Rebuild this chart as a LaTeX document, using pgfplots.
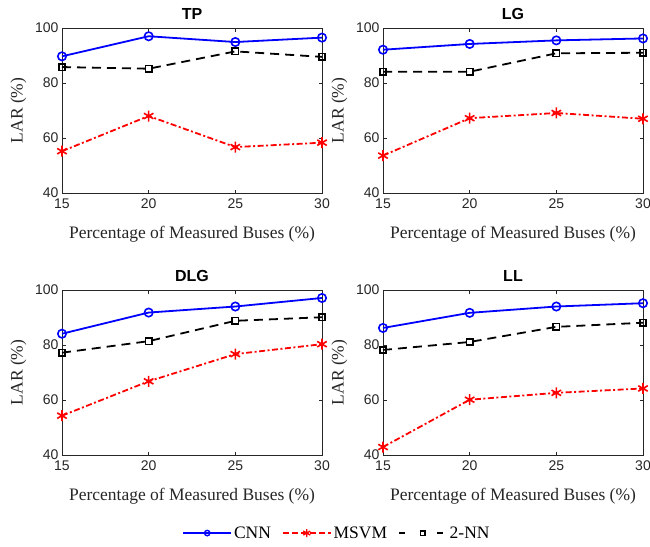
\documentclass[border=0pt]{standalone}
\usepackage{pgfplots}
\pgfplotsset{compat=1.18}
\usepackage{fontspec}
\setmainfont{Liberation Serif}
\setsansfont{Liberation Sans}
\definecolor{axgray}{gray}{0.15}
\pgfplotsset{
 myax/.style={
  scale only axis, width=260pt, height=165pt,
  xmin=15, xmax=30, ymin=40, ymax=100,
  xtick={15,20,25,30}, ytick={40,60,80,100},
  tick align=inside, major tick length=3.5pt,
  axis line style={axgray, line width=0.6pt},
  tick style={axgray, line width=0.6pt},
  /pgf/number format/assume math mode=true,
  ticklabel style={font=\sffamily\fontsize{14}{16}\selectfont, text=axgray},
  xticklabel style={yshift=-2pt},
  label style={font=\fontsize{17.5}{20}\selectfont, text=axgray},
  xlabel style={yshift=-11pt},
  ylabel style={yshift=2pt},
  title style={font=\sffamily\bfseries\fontsize{16}{18}\selectfont, yshift=-1pt},
  xlabel={Percentage of Measured Buses (\%)},
  ylabel={LAR (\%)},
  clip=false,
 },
 cnn/.style={blue, line width=1.8pt, mark=o, mark size=4.2pt, mark options={solid, line width=1.6pt}},
 msvm/.style={red, line width=1.8pt, dash pattern=on 6pt off 2.5pt on 2pt off 2.5pt, mark=asterisk, mark size=5.5pt, mark options={solid, line width=1.6pt}},
 nn/.style={black, line width=1.8pt, dash pattern=on 9pt off 6pt, mark=square, mark size=3.2pt, mark options={solid, line width=1.5pt}},
}
\begin{document}
\begin{tikzpicture}
\useasboundingbox (0,0) rectangle (650pt,-546pt);
% TP
\begin{axis}[myax, at={(62pt,-193pt)}, anchor=south west, title={TP}]
\addplot[cnn] coordinates {(15,89.7) (20,97.0) (25,94.9) (30,96.5)};
\addplot[msvm] coordinates {(15,55.2) (20,68.0) (25,56.7) (30,58.3)};
\addplot[nn] coordinates {(15,85.8) (20,85.2) (25,91.5) (30,89.5)};
\end{axis}
% LG
\begin{axis}[myax, at={(383pt,-193pt)}, anchor=south west, title={LG}]
\addplot[cnn] coordinates {(15,92.1) (20,94.2) (25,95.5) (30,96.2)};
\addplot[msvm] coordinates {(15,53.6) (20,67.2) (25,69.1) (30,67.0)};
\addplot[nn] coordinates {(15,84.1) (20,84.1) (25,90.8) (30,91.0)};
\end{axis}
% DLG
\begin{axis}[myax, at={(62pt,-455pt)}, anchor=south west, title={DLG}]
\addplot[cnn] coordinates {(15,84.1) (20,91.8) (25,94.0) (30,97.1)};
\addplot[msvm] coordinates {(15,54.3) (20,66.8) (25,76.7) (30,80.3)};
\addplot[nn] coordinates {(15,77.2) (20,81.4) (25,88.8) (30,90.1)};
\end{axis}
% LL
\begin{axis}[myax, at={(383pt,-455pt)}, anchor=south west, title={LL},
  legend columns=3,
  legend style={draw=none, fill=none, at={(-0.177,-0.473)}, anchor=center,
    font=\fontsize{17.5}{20}\selectfont, inner sep=0pt,
    /tikz/every even column/.append style={column sep=9pt}},
  legend image code/.code={\draw[mark repeat=2, mark phase=2, #1] plot coordinates {(0pt,0pt) (24pt,0pt) (48pt,0pt)};},
]
\addplot[cnn, forget plot] coordinates {(15,86.2) (20,91.7) (25,94.0) (30,95.2)};
\addplot[msvm, forget plot] coordinates {(15,42.9) (20,60.1) (25,62.6) (30,64.2)};
\addplot[nn, forget plot] coordinates {(15,78.2) (20,81.1) (25,86.6) (30,88.1)};
\addlegendimage{blue, line width=1.6pt, mark=o, mark size=2.7pt, mark options={solid, line width=1.4pt}}
\addlegendentry{CNN}
\addlegendimage{red, line width=1.6pt, dash pattern=on 6pt off 3pt, mark=asterisk, mark size=4pt, mark options={solid, line width=1.4pt}}
\addlegendentry{MSVM}
\addlegendimage{black, line width=1.6pt, dash pattern=on 6pt off 32pt, mark=square, mark size=2.2pt, mark options={solid, line width=1.3pt}}
\addlegendentry{2-NN}
\end{axis}
\end{tikzpicture}
\end{document}
